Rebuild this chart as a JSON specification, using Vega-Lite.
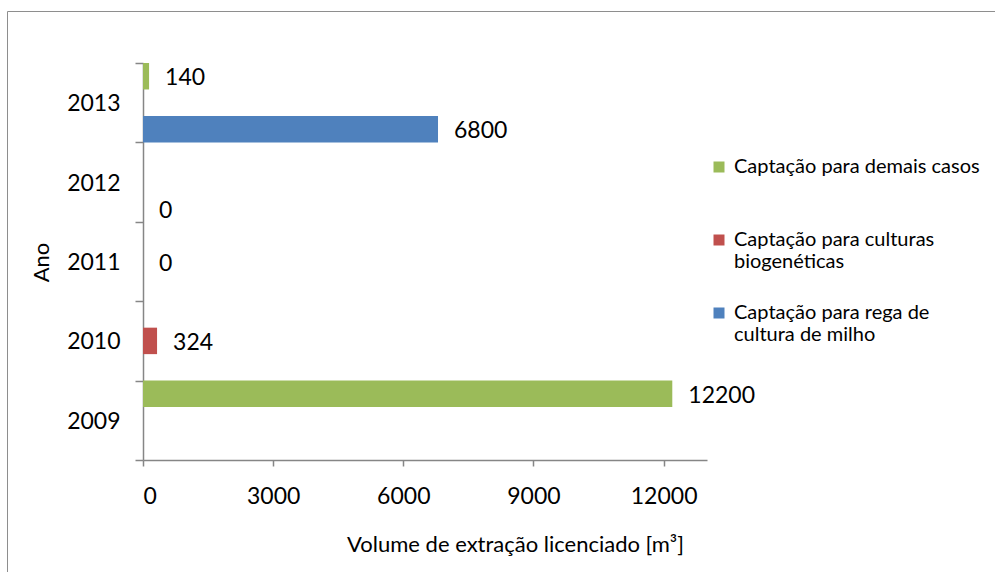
{
  "$schema": "https://vega.github.io/schema/vega-lite/v6.json",
  "width": 995,
  "height": 570,
  "autosize": {"type": "none"},
  "padding": {"left": 7, "top": 11, "right": 0, "bottom": 0},
  "background": "#ffffff",
  "data": {
    "values": [
      {"ano": "2013", "serie": "Captação para demais casos", "volume": 140},
      {"ano": "2013", "serie": "Captação para rega de cultura de milho", "volume": 6800},
      {"ano": "2012", "serie": "Captação para rega de cultura de milho", "volume": 0},
      {"ano": "2011", "serie": "Captação para culturas biogenéticas", "volume": 0},
      {"ano": "2010", "serie": "Captação para culturas biogenéticas", "volume": 324},
      {"ano": "2009", "serie": "Captação para demais casos", "volume": 12200}
    ]
  },
  "encoding": {
    "y": {
      "field": "ano",
      "type": "nominal",
      "sort": ["2013", "2012", "2011", "2010", "2009"],
      "scale": {"range": [52, 449], "paddingInner": 0, "paddingOuter": 0},
      "axis": {
        "title": "Ano",
        "offset": -136,
        "tickBand": "extent",
        "tickSize": 8,
        "labelPadding": 15,
        "labelOffset": 1,
        "titleAngle": -90,
        "titleX": -95,
        "titleY": 251,
        "titleAlign": "center",
        "titleBaseline": "alphabetic"
      }
    },
    "yOffset": {
      "field": "serie",
      "type": "nominal",
      "sort": ["Captação para demais casos", "Captação para culturas biogenéticas", "Captação para rega de cultura de milho"],
      "scale": {"paddingInner": 0, "paddingOuter": 0}
    },
    "x": {
      "field": "volume",
      "type": "quantitative",
      "scale": {"domain": [0, 13000], "range": [136, 700], "nice": false},
      "axis": {
        "title": "Volume de extração licenciado [m³]",
        "offset": -121,
        "values": [0, 3000, 6000, 9000, 12000],
        "format": "d",
        "tickSize": 6,
        "labelPadding": 19,
        "labelBaseline": "top",
        "titleX": 508,
        "titleY": 91,
        "titleAlign": "center",
        "titleBaseline": "alphabetic"
      }
    }
  },
  "layer": [
    {
      "mark": {"type": "bar"},
      "encoding": {
        "color": {
          "field": "serie",
          "type": "nominal",
          "sort": ["Captação para demais casos", "Captação para culturas biogenéticas", "Captação para rega de cultura de milho"],
          "scale": {
            "domain": ["Captação para demais casos", "Captação para culturas biogenéticas", "Captação para rega de cultura de milho"],
            "range": ["#9BBB59", "#C0504D", "#4F81BD"]
          },
          "legend": {
            "title": null,
            "orient": "none",
            "legendX": 702,
            "legendY": 146,
            "symbolType": "square",
            "symbolSize": 121,
            "symbolStrokeWidth": 0,
            "labelOffset": 5,
            "rowPadding": 31,
            "labelLimit": 400,
            "labelExpr": "datum.label === 'Captação para culturas biogenéticas' ? ['Captação para culturas', 'biogenéticas'] : datum.label === 'Captação para rega de cultura de milho' ? ['Captação para rega de', 'cultura de milho'] : [datum.label, '']"
          }
        }
      }
    },
    {
      "mark": {"type": "text", "align": "left", "baseline": "middle", "dx": 16, "dy": 2, "fontSize": 23, "font": "Lato", "color": "#000000"},
      "encoding": {
        "text": {"field": "volume", "type": "quantitative", "format": "d"}
      }
    }
  ],
  "config": {
    "font": "Lato",
    "view": {"stroke": "#8e8e8e", "strokeWidth": 1},
    "axis": {
      "labelFont": "Lato",
      "labelFontSize": 23,
      "labelColor": "#000000",
      "titleFont": "Lato",
      "titleFontSize": 22,
      "titleFontWeight": "normal",
      "titleColor": "#000000",
      "domainColor": "#868686",
      "tickColor": "#868686",
      "domainWidth": 1.5,
      "tickWidth": 1.5,
      "grid": false
    },
    "legend": {
      "labelFont": "Lato",
      "labelFontSize": 20,
      "labelColor": "#000000",
      "labelBaseline": "middle",
      "padding": 0
    }
  }
}
